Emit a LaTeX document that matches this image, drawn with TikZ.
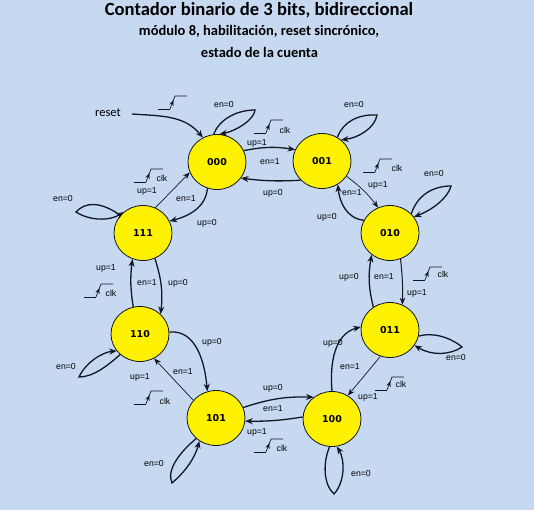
\documentclass[tikz,border=0pt]{standalone}
\usepackage{fontspec}
\setmainfont{Carlito}
\newfontfamily\lblfont{Liberation Sans}
\newfontfamily\statefont{DejaVu Sans}
\usetikzlibrary{arrows.meta,shapes.geometric}
\definecolor{bg}{RGB}{198,217,241}
\definecolor{ink}{RGB}{18,22,38}
\begin{document}
\begin{tikzpicture}[x=1pt,y=1pt,
  st/.style={ellipse,draw=ink,line width=0.8pt,fill=yellow,minimum width=58pt,minimum height=55pt,inner sep=0pt,font=\statefont\bfseries\fontsize{9.5}{11}\selectfont},
  lbl/.style={font=\lblfont\fontsize{8.7}{10}\selectfont,inner sep=0pt,text=black},
  ed/.style={draw=ink,line width=1.3pt,-{Stealth[length=7.5pt,width=6pt]}},
  edmid/.style={draw=ink,line width=1pt,-{Stealth[length=7pt,width=5.5pt]}},
  edthin/.style={draw=ink,line width=0.7pt,-{Stealth[length=7pt,width=5.5pt]}},
  pics/clksym/.style={code={
    \draw[ink,line width=0.7pt] (0,0) -- (12,0);
    \draw[ink,line width=0.7pt,-{Stealth[length=5.5pt,width=4.5pt]}] (12,0) -- (15.4,8.8);
    \draw[ink,line width=0.7pt] (14.6,6.7) -- (17,13) -- (29,13);
  }}
]
\fill[bg] (0,0) rectangle (534,-510);
\useasboundingbox (0,0) rectangle (534,-510);

% titles
\node[font=\bfseries\fontsize{18.6}{22}\selectfont,inner sep=0pt] (t1) at (259,-10) {Contador binario de 3 bits, bidireccional};
\node[font=\bfseries\fontsize{14.5}{17}\selectfont,inner sep=0pt] (t2) at (259,-31) {módulo 8, habilitación, reset sincrónico,};
\node[font=\bfseries\fontsize{14.5}{17}\selectfont,inner sep=0pt] (t3) at (259.5,-52) {estado de la cuenta};

% states
\node[st] (n000) at (217,-162) {000};
\node[st] (n001) at (322,-161) {001};
\node[st] (n010) at (390,-233) {010};
\node[st] (n011) at (390,-330) {011};
\node[st] (n100) at (332,-419) {100};
\node[st] (n101) at (216,-418) {101};
\node[st] (n110) at (140,-334) {110};
\node[st] (n111) at (143,-233) {111};

% reset
\node[font=\fontsize{12.5}{15}\selectfont,inner sep=0pt] (rstlbl) at (108,-113) {reset};
\coordinate (rst) at (132,-114);
\draw[ed] (rst) to[out=-4,in=130] (n000.120);
\pic at (158,-109) {clksym};

% transitions
\draw[ed] (n000.23) to[bend left=10] (n001.157);
\draw[ed] (n001.222) to[bend left=5] (n000.326);
\draw[edthin] (n111.64) -- (n000.201);
\draw[ed] (n000.250) to[out=265,in=15] (n111.24);
\draw[edthin] (n001.328) to[bend left=8] (n010.115);
\draw[ed] (n010.154) to[out=175,in=275] (n001.304);
\draw[edmid] (n010.292) to[bend left=4] (n011.64);
\draw[ed] (n011.126) to[bend left=12] (n010.230);
\draw[edthin] (n011.250) -- (n100.56);
\draw[ed] (n100.90) to[out=95,in=195] (n011.174);
\draw[ed] (n101.21) to[bend left=10] (n100.130);
\draw[ed] (n100.176) to[bend left=5] (n101.354);
\draw[edthin] (n101.142) -- (n110.300);
\draw[ed] (n110.4) to[out=5,in=95] (n101.108);
\draw[ed] (n110.104) to[bend left=8] (n111.248);
\draw[ed] (n111.295) to[bend left=12] (n110.44);

% self loops
\coordinate (a000) at (255,-110);
\draw[ed] (n000.97) .. controls (219,-120) and (236,-110) .. (a000) .. controls (254,-120) and (236,-131) .. (n000.85);
\coordinate (a001) at (377,-115);
\draw[ed] (n001.57) .. controls (343,-122) and (358,-114) .. (a001) .. controls (375,-128) and (358,-138) .. (n001.48);
\coordinate (a010) at (451,-186);
\draw[ed] (n010.42) .. controls (417,-196) and (432,-186) .. (a010) .. controls (448,-198) and (432,-210) .. (n010.34);
\coordinate (a011) at (462,-347);
\draw[ed] (n011.-12) .. controls (432,-332) and (450,-337) .. (a011) .. controls (450,-355) and (432,-356) .. (n011.-32);
\coordinate (a100) at (334,-494);
\draw[ed] (n100.-95) .. controls (323,-462) and (323,-484) .. (a100) .. controls (345,-482) and (345,-460) .. (n100.-80);
\coordinate (a101) at (172,-483);
\draw[ed] (n101.226) .. controls (180,-452) and (166,-470) .. (a101) .. controls (185,-472) and (195,-458) .. (n101.234);
\coordinate (a110) at (79,-377);
\draw[ed] (n110.226) .. controls (105,-368) and (92,-377) .. (a110) .. controls (86,-362) and (103,-352) .. (n110.216);
\coordinate (a111) at (76,-212);
\draw[ed] (n111.142) .. controls (100,-201) and (85,-202) .. (a111) .. controls (90,-221) and (110,-221) .. (n111.133);

% clock symbols
\pic at (254,-133) {clksym};
\pic at (363,-172) {clksym};
\pic at (413,-280) {clksym};
\pic at (375,-390) {clksym};
\pic at (254,-452) {clksym};
\pic at (134,-404) {clksym};
\pic at (84,-297) {clksym};
\pic at (134,-182) {clksym};

% clk labels
\node[lbl] (c1) at (285,-130) {clk};
\node[lbl] (c2) at (397,-168) {clk};
\node[lbl] (c3) at (443,-274) {clk};
\node[lbl] (c4) at (401,-384) {clk};
\node[lbl] (c5) at (282,-448) {clk};
\node[lbl] (c6) at (165,-401) {clk};
\node[lbl] (c7) at (111,-293) {clk};
\node[lbl] (c8) at (162,-178) {clk};

% transition labels
\node[lbl] (l1) at (224,-105) {en=0};
\node[lbl] (l2) at (257,-143) {up=1};
\node[lbl] (l3) at (270,-162) {en=1};
\node[lbl] (l4) at (273,-193) {up=0};
\node[lbl] (l5) at (354,-105) {en=0};
\node[lbl] (l6) at (378,-185) {up=1};
\node[lbl] (l7) at (352,-193) {en=1};
\node[lbl] (l8) at (327,-217) {up=0};
\node[lbl] (l9) at (434,-174) {en=0};
\node[lbl] (l10) at (417,-293) {up=1};
\node[lbl] (l11) at (349,-277) {up=0};
\node[lbl] (l12) at (384,-277) {en=1};
\node[lbl] (l13) at (456,-358) {en=0};
\node[lbl] (l14) at (368,-397) {up=1};
\node[lbl] (l15) at (333,-343) {up=0};
\node[lbl] (l16) at (350,-367) {en=1};
\node[lbl] (l17) at (361,-473) {en=0};
\node[lbl] (l18) at (273,-388) {up=0};
\node[lbl] (l19) at (273,-409) {en=1};
\node[lbl] (l20) at (257,-432) {up=1};
\node[lbl] (l21) at (154,-463) {en=0};
\node[lbl] (l22) at (183,-372) {en=1};
\node[lbl] (l23) at (140,-377) {up=1};
\node[lbl] (l24) at (212,-342) {up=0};
\node[lbl] (l25) at (66,-367) {en=0};
\node[lbl] (l26) at (106,-268) {up=1};
\node[lbl] (l27) at (147,-283) {en=1};
\node[lbl] (l28) at (178,-283) {up=0};
\node[lbl] (l29) at (63,-199) {en=0};
\node[lbl] (l30) at (147,-191) {up=1};
\node[lbl] (l31) at (186,-199) {en=1};
\node[lbl] (l32) at (207,-223) {up=0};
\end{tikzpicture}
\end{document}
